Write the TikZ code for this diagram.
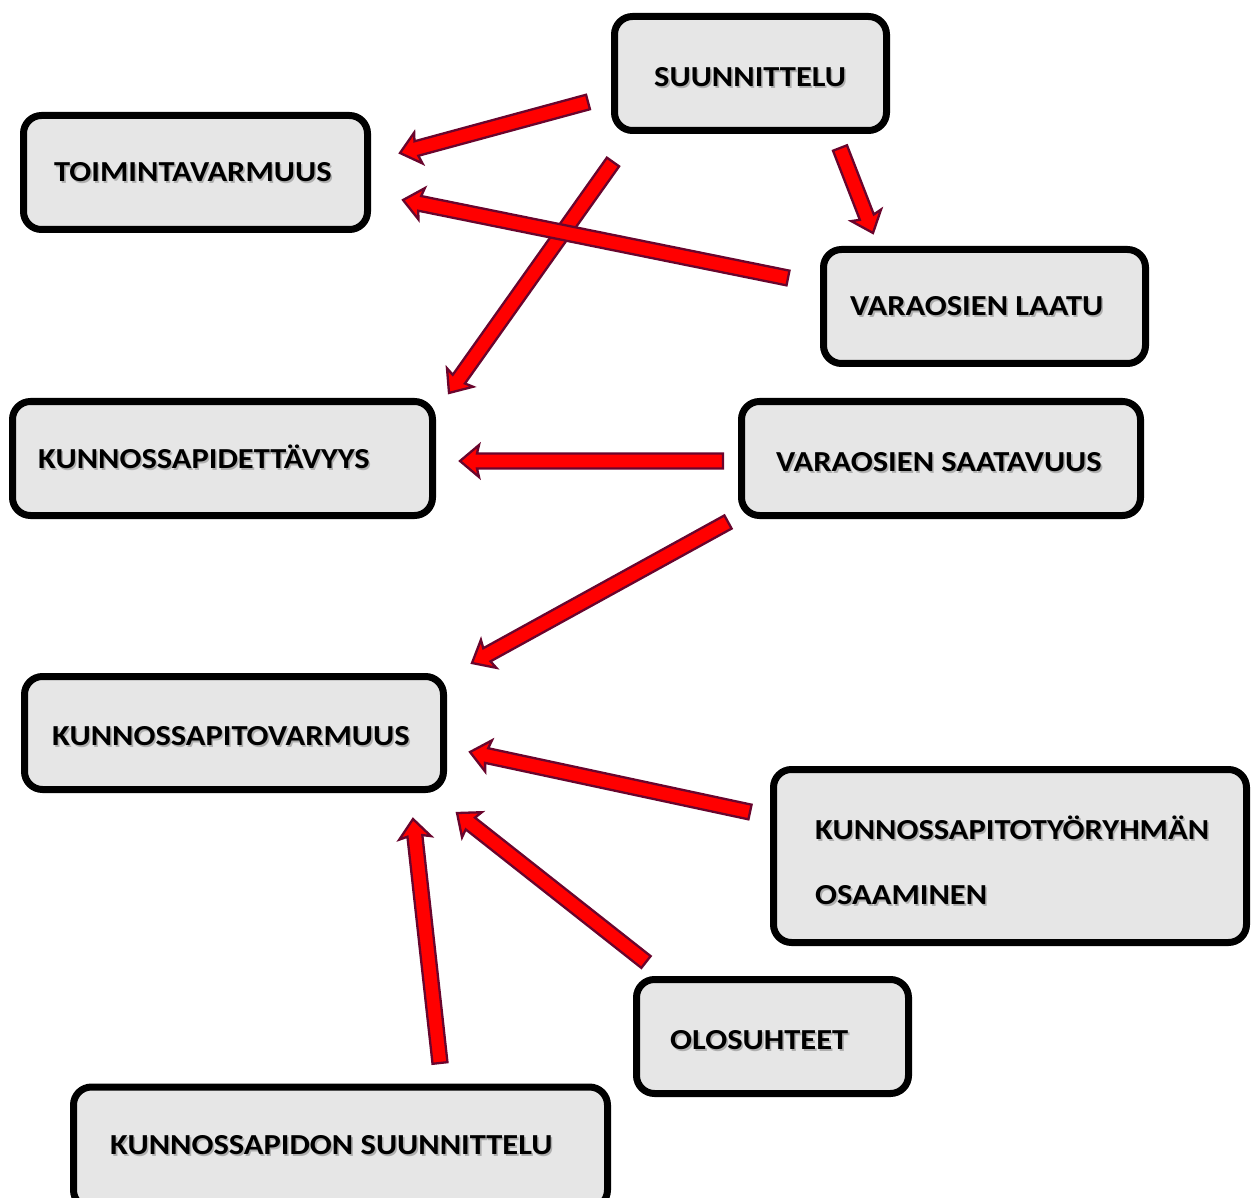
\documentclass[tikz,border=0pt]{standalone}
\usepackage{fontspec}
\setmainfont{Carlito}[FakeStretch=1.12]
\usetikzlibrary{calc}
\definecolor{boxfill}{RGB}{230,230,230}
\definecolor{arrowred}{RGB}{255,0,0}
\definecolor{arrowedge}{RGB}{105,5,45}

\tikzset{
  box/.style 2 args={draw=black, line width=7pt, fill=boxfill, rounded corners=18pt,
    inner sep=0pt, minimum width=#1, minimum height=#2},
  txt/.style={font=\bfseries\fontsize{29}{34}\selectfont, inner sep=0pt, anchor=base west, text=black},
  txtshadow/.style={txt, text=black!40, opacity=0.7},
  blockarrow/.style={draw=arrowedge, fill=arrowred, line width=2.3pt, line join=miter},
}

% thick block arrow from coordinate #1 (tail) to coordinate #2 (tip)
\newcommand\blockarrow[2]{%
  \path let \p1=($(#2)-(#1)$) in \pgfextra{%
    \pgfmathsetmacro\arang{atan2(\y1,\x1)}%
    \pgfmathsetmacro\arlen{veclen(\x1,\y1)}%
    \global\let\arang\arang\global\let\arlen\arlen};
  \draw[blockarrow, shift={(#1)}, rotate=\arang]
    (0,-7.5) -- ({\arlen-17},-7.5) -- ({\arlen-19},-16) -- (\arlen,0)
    -- ({\arlen-19},16) -- ({\arlen-17},7.5) -- (0,7.5) -- cycle;
}

% label with a soft drop shadow
\newcommand\boxtext[3]{%
  \node[txtshadow] (#1s) at ($(#2)+(1.6,1.6)$) {#3};
  \node[txt] (#1) at (#2) {#3};
}

\begin{document}
\begin{tikzpicture}[x=1pt, y=-1pt]
  \useasboundingbox (0,0) rectangle (1251,1198);
  \clip (0,0) rectangle (1251,1198);

  % boxes
  \node[box={272pt}{114pt}] (suun) at (750.5,73.5) {};
  \node[box={344pt}{114pt}] (toim) at (195.5,172.5) {};
  \node[box={322pt}{114pt}] (laatu) at (984.5,306.5) {};
  \node[box={420pt}{114pt}] (kpd) at (222.5,458.5) {};
  \node[box={399pt}{114pt}] (saat) at (941,458.5) {};
  \node[box={419pt}{113pt}] (kpv) at (234,733) {};
  \node[box={473pt}{173pt}] (osa) at (1010,856) {};
  \node[box={272pt}{114pt}] (olo) at (772.5,1036.5) {};
  \node[box={534pt}{121pt}] (kps) at (340.5,1147.5) {};

  % labels
  \coordinate (p1) at (654,86.5);
  \coordinate (p2) at (54,181.5);
  \coordinate (p3) at (850,315.5);
  \coordinate (p4) at (38,468.5);
  \coordinate (p5) at (776,471.5);
  \coordinate (p6) at (52,745.5);
  \coordinate (p7a) at (815,839.5);
  \coordinate (p7b) at (815,904.5);
  \coordinate (p8) at (670,1049.5);
  \coordinate (p9) at (110,1154.5);
  \boxtext{t1}{p1}{SUUNNITTELU}
  \boxtext{t2}{p2}{TOIMINTAVARMUUS}
  \boxtext{t3}{p3}{VARAOSIEN LAATU}
  \boxtext{t4}{p4}{KUNNOSSAPIDETTÄVYYS}
  \boxtext{t5}{p5}{VARAOSIEN SAATAVUUS}
  \boxtext{t6}{p6}{KUNNOSSAPITOVARMUUS}
  \boxtext{t7a}{p7a}{KUNNOSSAPITOTYÖRYHMÄN}
  \boxtext{t7b}{p7b}{OSAAMINEN}
  \boxtext{t8}{p8}{OLOSUHTEET}
  \boxtext{t9}{p9}{KUNNOSSAPIDON SUUNNITTELU}

  % arrow ends
  \coordinate (a1s) at (588,102);  \coordinate (a1e) at (400,153);
  \coordinate (a2s) at (613,162);  \coordinate (a2e) at (449,393);
  \coordinate (a3s) at (840,148);  \coordinate (a3e) at (873,233);
  \coordinate (a4s) at (788,278);  \coordinate (a4e) at (403,200);
  \coordinate (a5s) at (723,461);  \coordinate (a5e) at (460,461);
  \coordinate (a6s) at (728,522);  \coordinate (a6e) at (472,663);
  \coordinate (a7s) at (750,812);  \coordinate (a7e) at (470,752);
  \coordinate (a8s) at (646,962);  \coordinate (a8e) at (457,813);
  \coordinate (a9s) at (440,1063); \coordinate (a9e) at (413,819);

  \blockarrow{a1s}{a1e}
  \blockarrow{a2s}{a2e}
  \blockarrow{a3s}{a3e}
  \blockarrow{a4s}{a4e}
  \blockarrow{a5s}{a5e}
  \blockarrow{a6s}{a6e}
  \blockarrow{a7s}{a7e}
  \blockarrow{a8s}{a8e}
  \blockarrow{a9s}{a9e}
\end{tikzpicture}
\end{document}
